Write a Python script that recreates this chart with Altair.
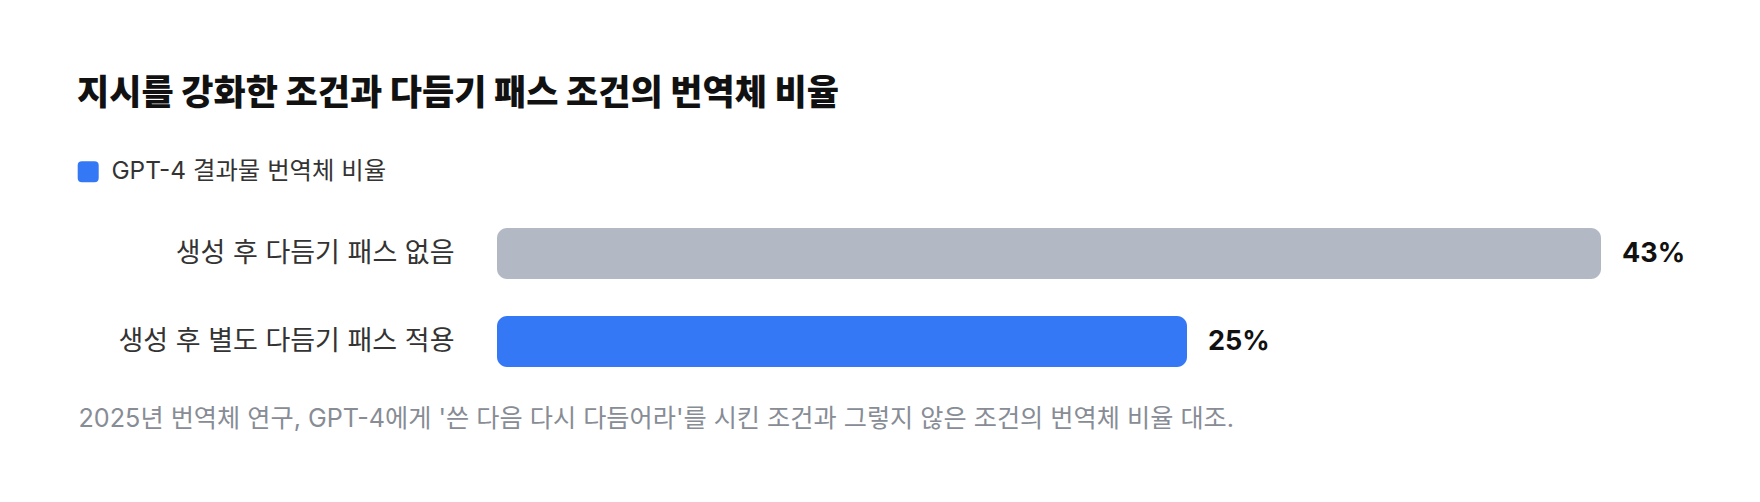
import altair as alt
import pandas as pd

# ---- data ----
conditions = ["생성 후 다듬기 패스 없음", "생성 후 별도 다듬기 패스 적용"]
rates = [43, 25]
rate_labels = ["43%", "25%"]
series = ["다듬기 패스 없음", "GPT-4 결과물 번역체 비율"]
colors = ["#b3b9c4", "#3478f6"]
title_text = "지시를 강화한 조건과 다듬기 패스 조건의 번역체 비율"
footer_text = "2025년 번역체 연구, GPT-4에게 '쓴 다음 다시 다듬어라'를 시킨 조건과 그렇지 않은 조건의 번역체 비율 대조."
axis_floor = -5
axis_ceiling = 44

df = pd.DataFrame({"condition": conditions, "rate": rates, "label": rate_labels, "series": series})

FONT = "Inter, 'Noto Sans CJK KR', sans-serif"
rounded_square = "M-0.6,-1H0.6Q1,-1,1,-0.6V0.6Q1,1,0.6,1H-0.6Q-1,1,-1,0.6V-0.6Q-1,-1,-0.6,-1Z"

y_enc = alt.Y(
    "condition:N",
    sort=conditions,
    scale=alt.Scale(paddingInner=0.42, paddingOuter=0.21),
    axis=alt.Axis(
        title=None, labelFontSize=27, labelColor="#333333", labelFont=FONT,
        labelPadding=43, ticks=False, domain=False, grid=False, labelLimit=0,
    ),
)

x_enc = alt.X(
    "rate:Q",
    scale=alt.Scale(domain=[axis_floor, axis_ceiling], nice=False, zero=False),
    axis=alt.Axis(
        labels=False, ticks=False, domain=False, grid=False,
        title=footer_text, titleX=-419, titleY=33, titleAlign="left",
        titleBaseline="middle", titleFontSize=25.2, titleFontWeight="normal",
        titleColor="#878c95", titleFont=FONT, titleLimit=0,
    ),
)

bars = alt.Chart(df).mark_bar(cornerRadius=10).encode(
    x=x_enc,
    x2=alt.datum(axis_floor),
    y=y_enc,
    color=alt.Color(
        "series:N",
        scale=alt.Scale(domain=series, range=colors),
        legend=alt.Legend(
            values=[series[1]], orient="none", legendX=-421, legendY=-50,
            title=None, symbolType=rounded_square, symbolSize=441,
            symbolStrokeWidth=0, symbolOpacity=1, labelFontSize=24.4,
            labelColor="#333333", labelFont=FONT, labelOffset=11, padding=0,
            labelLimit=0,
        ),
    ),
)

values = alt.Chart(df).mark_text(
    align="left", baseline="middle", dx=21, fontSize=27, fontWeight="bold",
    color="#111111", font=FONT,
).encode(
    x=alt.X("rate:Q"),
    y=alt.Y("condition:N", sort=conditions),
    text="label:N",
)

chart = alt.layer(bars, values).properties(
    width=1127,
    height=176,
    padding={"left": 489, "top": 201.5, "right": 100, "bottom": 90},
    autosize=alt.AutoSizeParams(type="none"),
    background="white",
    title=alt.TitleParams(
        text=title_text, anchor="start", frame="group", dx=-420, offset=48,
        fontSize=35, fontWeight=800, color="#111111", font=FONT,
    ),
).configure_view(stroke=None)

chart.save("out.html", embed_options={"renderer": "svg", "actions": False})
